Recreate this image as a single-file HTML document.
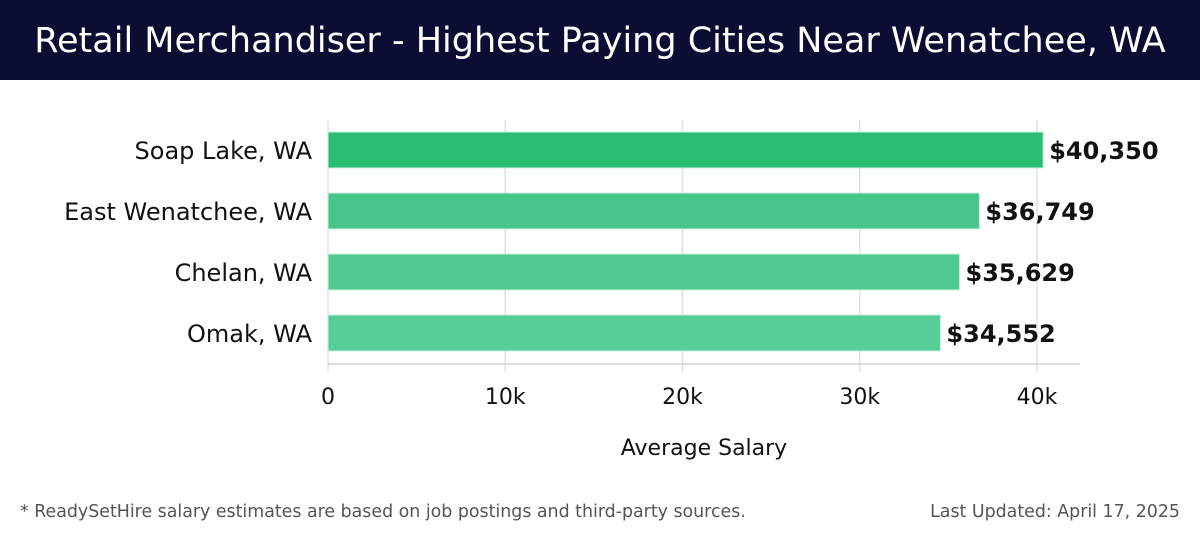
<!DOCTYPE html>
<html><head><meta charset="utf-8"><style>
body{margin:0;width:1200px;height:540px;background:#fff;font-family:"DejaVu Sans","Liberation Sans",sans-serif;overflow:hidden;position:relative}
#title{position:absolute;left:0;top:0;width:1200px;height:80px;background:#0c0d33;color:#fff;font-size:35px;line-height:82px;text-align:center}
.foot{position:absolute;top:502px;font-size:17.4px;color:#555}
</style></head><body>
<div id="title">Retail Merchandiser - Highest Paying Cities Near Wenatchee, WA</div>
<svg id="chart" width="1200" height="540" style="position:absolute;left:0;top:0"></svg>
<div class="foot" style="left:20px">* ReadySetHire salary estimates are based on job postings and third-party sources.</div>
<div class="foot" style="right:20px">Last Updated: April 17, 2025</div>
<script>
const categories=["Soap Lake, WA","East Wenatchee, WA","Chelan, WA","Omak, WA"];
const salaries=[40350,36749,35629,34552];
const ticks=[0,10000,20000,30000,40000];
const tickLabels=["0","10k","20k","30k","40k"];
const colors=["#2bbd74","#47c58a","#50c990","#58cd97"];
const svg=document.getElementById('chart');const NS="http://www.w3.org/2000/svg";
const x=v=>328+v*(1037-328)/40000;
const y=i=>132+i*61;
function mk(t,a,txt){const e=document.createElementNS(NS,t);for(const k in a)e.setAttribute(k,a[k]);if(txt!=null)e.textContent=txt;svg.appendChild(e);return e;}
ticks.forEach((t,i)=>{
const g=mk('line',{x1:x(t),x2:x(t),y1:120,y2:372,stroke:'#e0e0e0','stroke-width':1.5});


const l=mk('text',{x:x(t),y:404,'text-anchor':'middle','font-size':22,fill:'#111'},tickLabels[i]);


});
const ax=mk('line',{x1:328,x2:1080,y1:364,y2:364,stroke:'#d0d0d0','stroke-width':1.5});


categories.forEach((c,i)=>{
const b=mk('rect',{x:x(0),y:y(i),width:x(salaries[i])-x(0),height:36,fill:colors[i],stroke:'#c8f0dc','stroke-width':1});


const l=mk('text',{x:312,y:y(i)+27,'text-anchor':'end','font-size':24,fill:'#111'},c);


const v=mk('text',{x:x(salaries[i])+6,y:y(i)+27,'font-size':24,'font-weight':'bold',fill:'#111','font-family':'DejaVu Sans, sans-serif'},'$'+salaries[i].toLocaleString('en-US'));


});
const at=mk('text',{x:704,y:455,'text-anchor':'middle','font-size':22,fill:'#111'},'Average Salary');


</script>
</body></html>
